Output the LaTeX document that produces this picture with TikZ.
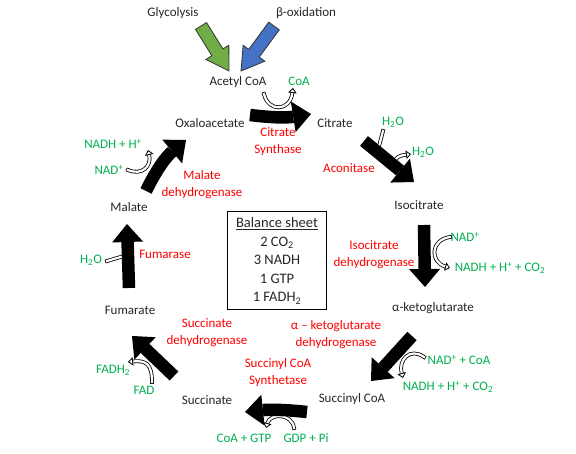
\documentclass[tikz,border=0pt]{standalone}
\usepackage{fontspec}
\setmainfont{Carlito}
\usetikzlibrary{arrows.meta,calc}
\definecolor{tgray}{HTML}{262626}
\definecolor{grn}{HTML}{00B050}
\definecolor{rd}{HTML}{FF0000}
\definecolor{agreen}{HTML}{70AD47}
\definecolor{ablue}{HTML}{4472C4}
\newcommand{\blockarrow}[6]{%
  \coordinate (tmpH) at ($(#2)!#5!(#1)$);
  \draw[#6] ($(#1)!#3!90:(#2)$) -- ($(tmpH)!#3!90:(#2)$) -- ($(tmpH)!#4!90:(#2)$) -- (#2)
    -- ($(tmpH)!#4!-90:(#2)$) -- ($(tmpH)!#3!-90:(#2)$) -- ($(#1)!#3!-90:(#2)$) -- cycle;}
\tikzset{
  lbl/.style={font=\fontsize{13}{17}\selectfont, text=tgray, inner sep=0pt, align=center},
  enz/.style={lbl, text=rd},
  gl/.style={lbl, text=grn},
  bigarr/.style={line width=12.5pt, draw=black, -{Triangle[length=18pt,width=31pt,line width=0pt]}},
  hol/.style={line width=0.8pt, double=white, double distance=2.2pt, line cap=rect},
  holh/.style={hol, -{Triangle[fill=white,length=5pt,width=8.5pt,line width=0.8pt]}},
}
\begin{document}
\begin{tikzpicture}[x=1pt,y=-1pt]
\useasboundingbox (0,0) rectangle (576,454);
% labels
\node[lbl] (glyc) at (173,13) {Glycolysis};
\node[lbl] (beta) at (306,13) {β-oxidation};
\node[lbl] (acetyl) at (238,82) {Acetyl CoA};
\node[gl] (coa1) at (299,81) {CoA};
\node[lbl] (oaa) at (210,123) {Oxaloacetate};
\node[lbl] (cit) at (335,123) {Citrate};
\node[enz] (cs) at (278,142) {Citrate\\Synthase};
\node[gl] (h2oa) at (393,122) {H\textsubscript{2}O};
\node[gl] (h2ob) at (423,152) {H\textsubscript{2}O};
\node[enz] (acon) at (349,168) {Aconitase};
\node[lbl] (isocit) at (419,205) {Isocitrate};
\node[gl] (nada) at (465,237) {NAD\textsuperscript{+}};
\node[gl] (nadha) at (500,268) {NADH + H\textsuperscript{+} + CO\textsubscript{2}};
\node[enz] (icdh) at (374,255) {Isocitrate\\dehydrogenase};
\node[lbl] (akg) at (433,308) {α-ketoglutarate};
\node[enz] (akgdh) at (336,335) {α – ketoglutarate\\dehydrogenase};
\node[gl] (nadcoa) at (459,360) {NAD\textsuperscript{+} + CoA};
\node[gl] (nadhb) at (448,387) {NADH + H\textsuperscript{+} + CO\textsubscript{2}};
\node[lbl] (succoa) at (352,399) {Succinyl CoA};
\node[enz] (scs) at (278,373) {Succinyl CoA\\Synthetase};
\node[gl] (coagtp) at (244,438) {CoA + GTP};
\node[gl] (gdppi) at (306,438) {GDP + Pi};
\node[lbl] (succ) at (207,400) {Succinate};
\node[enz] (sdh) at (207,333) {Succinate\\dehydrogenase};
\node[gl] (fadh2) at (113,370) {FADH\textsubscript{2}};
\node[gl] (fad) at (144,390) {FAD};
\node[lbl] (fum) at (130,310) {Fumarate};
\node[enz] (fumarase) at (165,254) {Fumarase};
\node[gl] (h2oc) at (91,260) {H\textsubscript{2}O};
\node[lbl] (malate) at (129,207) {Malate};
\node[enz] (mdh) at (202,185) {Malate\\dehydrogenase};
\node[gl] (nadhc) at (113,144) {NADH + H\textsuperscript{+}};
\node[gl] (nadc) at (109,170) {NAD\textsuperscript{+}};
% balance sheet
\node[draw=black, line width=1pt, minimum width=99pt, minimum height=98pt, inner sep=0pt,
  font=\fontsize{14.5}{18.5}\selectfont, text=tgray, align=center] (box) at (277,261)
  {\underline{Balance sheet}\\2 CO\textsubscript{2}\\3 NADH\\1 GTP\\1 FADH\textsubscript{2}};
% entry arrows
\coordinate (ga1) at (201,26); \coordinate (ga2) at (229,71);
\coordinate (ba1) at (274,26); \coordinate (ba2) at (241,71);
\blockarrow{ga1}{ga2}{6.5pt}{13.5pt}{22pt}{fill=agreen, draw=black!80, line width=0.8pt}
\blockarrow{ba1}{ba2}{6.5pt}{13.5pt}{22pt}{fill=ablue, draw=black!80, line width=0.8pt}
% hollow side arrows
\coordinate (ha1) at (264,94); \coordinate (ha2) at (293,88);
\draw[holh] (ha1) .. controls (268,112) and (290,112) .. (ha2);
\coordinate (hb1) at (378,150); \coordinate (hb2) at (383,131);
\draw[hol] (hb1) -- (hb2);
\coordinate (hc1) at (392,164); \coordinate (hc2) at (411,154);
\draw[holh] (hc1) .. controls (398,156) .. (hc2);
\coordinate (hd1) at (450,237); \coordinate (hd2) at (450,268);
\draw[holh] (hd1) .. controls (430,240) and (430,262) .. (hd2);
\coordinate (he1) at (424,357); \coordinate (he2) at (403,378);
\draw[holh] (he1) .. controls (410,347) and (398,360) .. (he2);
\coordinate (hf1) at (294,428); \coordinate (hf2) at (266,428);
\draw[holh] (hf1) .. controls (292,413) and (270,413) .. (hf2);
\coordinate (hg1) at (152,382); \coordinate (hg2) at (128,362);
\draw[holh] (hg1) .. controls (152,364) and (146,360) .. (hg2);
\coordinate (hh1) at (107,261); \coordinate (hh2) at (124,256);
\draw[hol] (hh1) -- (hh2);
\coordinate (hi1) at (128,170); \coordinate (hi2) at (148,150);
\draw[holh] (hi1) .. controls (142,176) and (152,166) .. (hi2);
% main black arrows
\coordinate (k1s) at (250,115); \coordinate (k1e) at (311,114);
\draw[bigarr] (k1s) to[bend right=8] (k1e);
\coordinate (k2s) at (364,141); \coordinate (k2e) at (414,182);
\draw[bigarr] (k2s) -- (k2e);
\coordinate (k3s) at (424,225); \coordinate (k3e) at (425,287);
\draw[bigarr] (k3s) -- (k3e);
\coordinate (k4s) at (412,336); \coordinate (k4e) at (371,381);
\draw[bigarr] (k4s) -- (k4e);
\coordinate (k5s) at (307,412); \coordinate (k5e) at (245,412);
\draw[bigarr] (k5s) to[bend right=6] (k5e);
\coordinate (k6s) at (174,376); \coordinate (k6e) at (132,336);
\draw[bigarr] (k6s) -- (k6e);
\coordinate (k7s) at (129,288); \coordinate (k7e) at (127,224);
\draw[bigarr] (k7s) -- (k7e);
\coordinate (k8s) at (146,191); \coordinate (k8e) at (186,140);
\draw[bigarr] (k8s) to[bend left=12] (k8e);
\end{tikzpicture}
\end{document}
